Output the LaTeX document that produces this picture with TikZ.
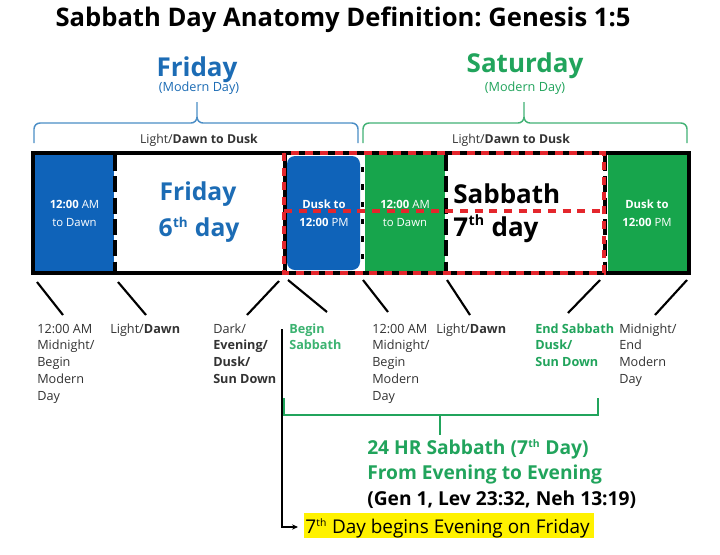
\documentclass[tikz,border=0pt]{standalone}
\usepackage{fontspec}
\usepackage{graphicx}
\setmainfont{Open Sans}
\usetikzlibrary{arrows.meta}
\definecolor{boxblue}{HTML}{0F63B9}
\definecolor{txtblue}{HTML}{1C6CB5}
\definecolor{braceblue}{HTML}{4B8EC6}
\definecolor{boxgreen}{HTML}{17A54C}
\definecolor{txtgreen}{HTML}{21A45C}
\definecolor{lightgreen}{HTML}{3CB371}
\definecolor{dred}{HTML}{E4262C}
\definecolor{hl}{HTML}{FFF200}
\definecolor{lblgray}{HTML}{333333}
\newcommand{\stk}[1]{\vtop{\baselineskip=12.6pt\halign{##\hfil\cr#1\crcr}}}
\newcommand{\cstk}[1]{\vtop{\baselineskip=13.5pt\halign{\hfil##\hfil\cr#1\crcr}}}
\newcommand{\ordth}{\textsuperscript{\kern0.03em\scalebox{0.78}{th}}}
\tikzset{
  txt/.style={inner sep=0pt},
  lbl/.style={inner sep=0pt, anchor=base west, text=lblgray, font=\fontsize{9.5}{12.6}\selectfont},
  boxtxt/.style={inner sep=0pt, anchor=base, text=white, font=\fontsize{8.5}{13.5}\selectfont},
  tick/.style={line width=1.6pt, black},
  bigday/.style={inner sep=0pt, font=\bfseries\fontsize{18.5}{20}\selectfont},
  sepline/.style={line width=2.4pt, black, dash pattern=on 12pt off 4pt},
  reddash/.style={line width=2.3pt, dred, dash pattern=on 6pt off 5pt},
  lower/.style={inner sep=0pt, anchor=base west, font=\bfseries\fontsize{14.4}{16}\selectfont},
}
\begin{document}
\frenchspacing
\begin{tikzpicture}[x=0.75pt,y=-0.75pt]
\useasboundingbox (0,0) rectangle (720,554);
\fill[white] (0,0) rectangle (720,554);

% title and headers
\node[txt, anchor=base, font=\bfseries\fontsize{19.2}{22}\selectfont] (title) at (343,26) {Sabbath Day Anatomy Definition: Genesis 1:5};
\node[txt, anchor=base, text=txtblue, font=\bfseries\fontsize{19.5}{22}\selectfont] (fri) at (197,76) {Friday};
\node[txt, anchor=base, text=txtblue, font=\fontsize{9.5}{10}\selectfont] (frim) at (199,91) {(Modern Day)};
\node[txt, anchor=base, text=txtgreen, font=\bfseries\fontsize{19.5}{22}\selectfont] (sat) at (525,72) {Saturday};
\node[txt, anchor=base, text=txtgreen, font=\fontsize{9.5}{10}\selectfont] (satm) at (525,91) {(Modern Day)};

% braces
\draw[braceblue, line width=1.1pt] (34,143) -- (34,129) to[out=90,in=180] (40,123) -- (191,123) to[out=0,in=-90] (197,117) -- (197,102)
  (197,117) to[out=-90,in=180] (203,123) -- (352,123) to[out=0,in=90] (358,129) -- (358,143);
\draw[txtgreen!85, line width=1.1pt] (363,143) -- (363,129) to[out=90,in=180] (369,123) -- (518,123) to[out=0,in=-90] (524,117) -- (524,102)
  (524,117) to[out=-90,in=180] (530,123) -- (681,123) to[out=0,in=90] (687,129) -- (687,143);
\node[txt, anchor=base, font=\fontsize{9.2}{10}\selectfont, text=lblgray] (ld1) at (199,143) {Light/\textbf{Dawn to Dusk}};
\node[txt, anchor=base, font=\fontsize{9.2}{10}\selectfont, text=lblgray] (ld2) at (511,143) {Light/\textbf{Dawn to Dusk}};

% bar boxes
\fill[boxblue] (35,155) rectangle (114,271);
\fill[boxblue, rounded corners=6pt] (287,156) rectangle (360,270);
\fill[boxgreen] (365,155) rectangle (445,271);
\fill[boxgreen] (608,155) rectangle (687,271);
\draw[line width=3pt] (33,153) rectangle (689,273);
\draw[sepline] (115,155) -- (115,271);
\draw[sepline] (446,155) -- (446,271);
\draw[sepline] (605,155) -- (605,271);
\draw[line width=2.4pt, black] (285,155) -- (285,271);
\draw[line width=2.4pt, black] (362.5,155) -- (362.5,271);
\draw[line width=2.4pt, white, dash pattern=on 9pt off 4pt] (362.5,155) -- (362.5,271);

% red dashed sabbath frame
\draw[reddash] (284,153) rectangle (604,273);
\draw[reddash] (284,211) -- (604,211);

% box texts
\node[boxtxt] (b1) at (74.5,208) {\cstk{\textbf{12:00} AM\cr to Dawn}};
\node[boxtxt] (b2) at (324,208) {\cstk{\textbf{Dusk to}\cr \textbf{12:00} PM}};
\node[boxtxt] (g1) at (405,208) {\cstk{\textbf{12:00} AM\cr to Dawn}};
\node[boxtxt] (g2) at (647,208) {\cstk{\textbf{Dusk to}\cr \textbf{12:00} PM}};
\node[bigday, anchor=base, text=txtblue] (fd1) at (198,200) {Friday};
\node[bigday, anchor=base, text=txtblue] (fd2) at (199,236) {6\ordth{} day};
\node[bigday, anchor=base west, font=\bfseries\fontsize{19.5}{20}\selectfont] (sd1) at (453,203) {Sabbath};
\node[bigday, anchor=base west, font=\bfseries\fontsize{19.5}{20}\selectfont] (sd2) at (453,236) {7\ordth{} day};

% ticks
\coordinate (t1a) at (37,282); \coordinate (t1b) at (63,315);
\coordinate (t2a) at (118,282); \coordinate (t2b) at (146,315);
\coordinate (t3a) at (279,281); \coordinate (t3b) at (247,315);
\coordinate (t4a) at (288,280); \coordinate (t4b) at (327,312);
\coordinate (t5a) at (363,280); \coordinate (t5b) at (388,312);
\coordinate (t6a) at (447,280); \coordinate (t6b) at (470,315);
\coordinate (t7a) at (600,280); \coordinate (t7b) at (568,313);
\coordinate (t8a) at (687,280); \coordinate (t8b) at (655,315);
\foreach \i in {1,...,8} \draw[tick] (t\i a) -- (t\i b);

% labels
\node[lbl] (l1) at (37,333) {\stk{12:00 AM\cr Midnight/\cr Begin\cr Modern\cr Day}};
\node[lbl] (l2) at (110,333) {Light/\textbf{Dawn}};
\node[lbl] (l3) at (213,333) {\stk{Dark/\cr \textbf{Evening/}\cr \textbf{Dusk/}\cr \textbf{Sun Down}}};
\node[lbl, text=lightgreen] (l4) at (289,333) {\stk{\textbf{Begin}\cr \textbf{Sabbath}}};
\node[lbl] (l5) at (372,333) {\stk{12:00 AM\cr Midnight/\cr Begin\cr Modern\cr Day}};
\node[lbl] (l6) at (436,333) {Light/\textbf{Dawn}};
\node[lbl, text=txtgreen] (l7) at (535,333) {\stk{\textbf{End Sabbath}\cr \textbf{Dusk/}\cr \textbf{Sun Down}}};
\node[lbl] (l8) at (619,333) {\stk{Midnight/\cr End\cr Modern\cr Day}};

% green bracket
\coordinate (gbl) at (284,398); \coordinate (gbr) at (598,398);
\coordinate (gbm) at (440,415); \coordinate (gbt) at (440,435);
\draw[txtgreen, line width=2pt] (gbl) |- (gbm) -| (gbr);
\draw[txtgreen, line width=2pt] (gbm) -- (gbt);

\node[lower, text=txtgreen] (s1) at (367,454) {24 HR Sabbath (7\ordth{} Day)};
\node[lower, text=txtgreen] (s2) at (367,479) {From Evening to Evening};
\node[lower] (s3) at (367,505) {(Gen 1, Lev 23:32, Neh 13:19)};

% highlighted note and arrow
\fill[hl] (304,513) rectangle (594,538);
\node[txt, anchor=base west, font=\fontsize{14.2}{16}\selectfont] (note) at (305,533) {7\ordth{} Day begins Evening on Friday};
\coordinate (av) at (282,329);
\coordinate (ah) at (298,527);
\draw[line width=1.1pt, -{Stealth[length=4.5pt,width=4pt]}] (av) |- (ah);
\end{tikzpicture}
\end{document}
